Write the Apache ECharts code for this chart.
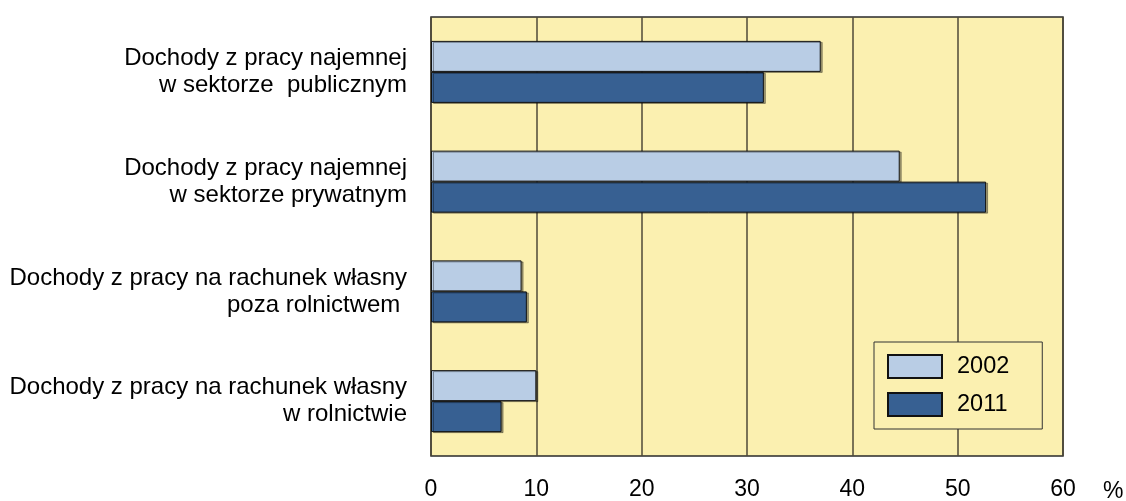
<!DOCTYPE html>
<html>
<head>
<meta charset="utf-8">
<script src="https://cdn.jsdelivr.net/npm/echarts@6/dist/echarts.min.js"></script>
<style>html,body{margin:0;padding:0;background:#fff}#c{width:1126px;height:501px}</style>
</head>
<body>
<div id="c"></div>
<script>
const categories = [
  "Dochody z pracy najemnej\nw sektorze  publicznym",
  "Dochody z pracy najemnej\nw sektorze prywatnym",
  "Dochody z pracy na rachunek własny\npoza rolnictwem ",
  "Dochody z pracy na rachunek własny\nw rolnictwie"
];
const seriesNames = ["2002", "2011"];
const values2002 = [37.0, 44.5, 8.6, 10.0];
const values2011 = [31.6, 52.7, 9.1, 6.7];
const xTicks = [0, 10, 20, 30, 40, 50, 60];

const chart = echarts.init(document.getElementById('c'), null, {renderer: 'canvas'});
const font = "'Liberation Sans', Arial, sans-serif";
const barStyle = (c) => ({color: c, borderColor: '#111', borderWidth: 1,
  shadowColor: 'rgba(0,0,0,0.35)', shadowOffsetX: 2, shadowOffsetY: 1, shadowBlur: 0});
chart.setOption({
  animation: false,
  backgroundColor: '#ffffff',
  textStyle: {fontFamily: font},
  grid: {left: 431, top: 17, right: 63, bottom: 43, show: true,
    backgroundColor: '#FBF0B0', borderColor: '#2a2a2a', borderWidth: 1.5},
  legend: {
    left: 874, top: 342, orient: 'vertical',
    data: seriesNames,
    itemWidth: 54, itemHeight: 23, itemGap: 13,
    icon: 'rect',
    backgroundColor: '#FBF0B0', borderColor: '#333', borderWidth: 1,
    padding: [12, 33, 12, 13],
    textStyle: {fontFamily: font, fontSize: 23.5, color: '#000', padding: [0, 0, 0, 10]}
  },
  xAxis: {
    type: 'value', min: xTicks[0], max: xTicks[xTicks.length - 1], interval: 10,
    axisLine: {show: false}, axisTick: {show: false},
    axisLabel: {fontFamily: font, fontSize: 23, color: '#000', margin: 22},
    splitLine: {show: true, lineStyle: {color: '#4f4a38', width: 1.5}}
  },
  yAxis: {
    type: 'category', data: categories, inverse: true,
    axisLine: {show: false}, axisTick: {show: false},
    axisLabel: {fontFamily: font, fontSize: 24, color: '#000', margin: 24,
      lineHeight: 27, align: 'right'}
  },
  graphic: [{type: 'text', left: 1103, top: 480,
    style: {text: '%', fontFamily: font, fontSize: 23, fill: '#000'}}],
  series: [
    {name: seriesNames[0], type: 'bar', data: values2002, barWidth: 31, barGap: '0%',
     itemStyle: barStyle('#B9CDE5')},
    {name: seriesNames[1], type: 'bar', data: values2011, barWidth: 31, barGap: '0%',
     itemStyle: barStyle('#376092')}
  ]
});
</script>
</body>
</html>
